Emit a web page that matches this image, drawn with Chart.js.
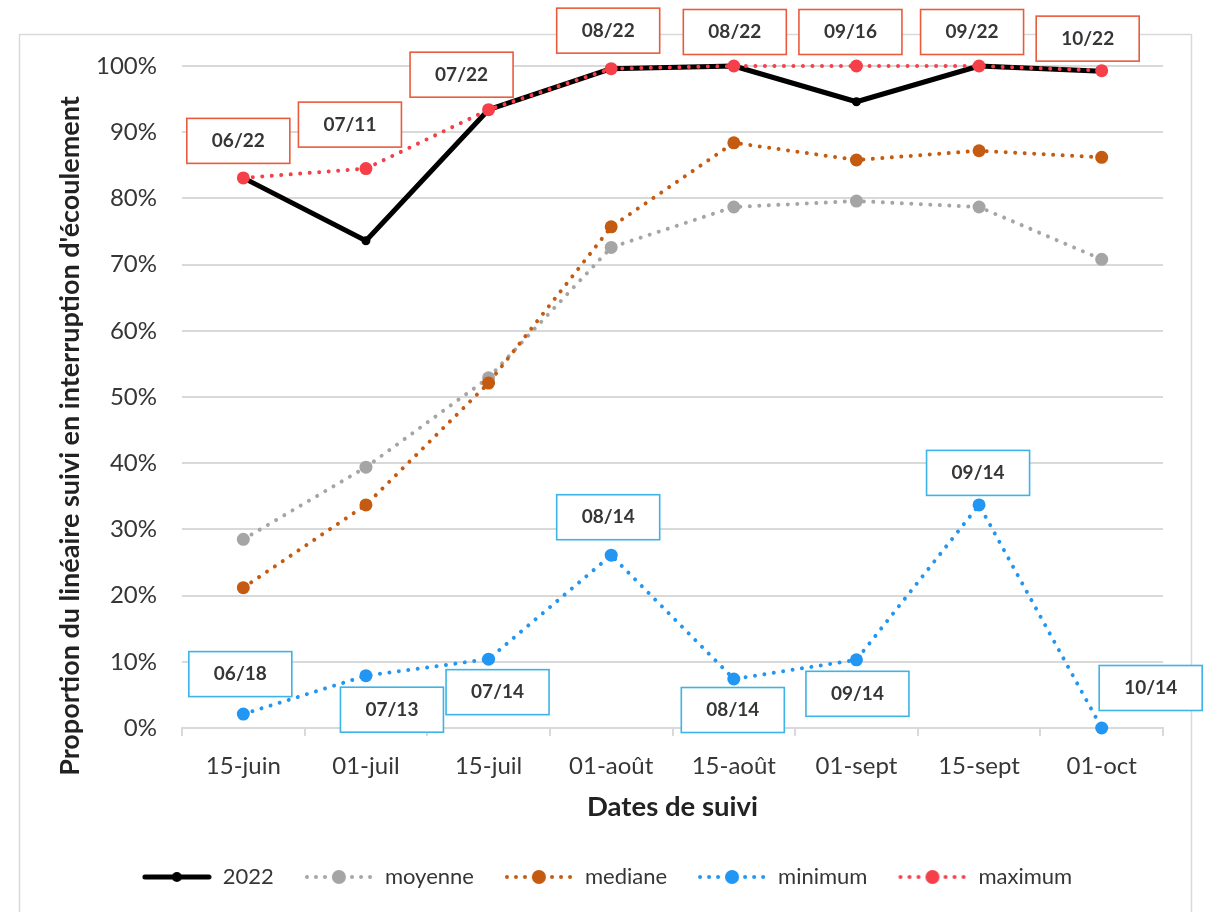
<!DOCTYPE html>
<html lang="fr">
<head>
<meta charset="utf-8">
<title>Interruption d'écoulement</title>
<script src="https://cdn.jsdelivr.net/npm/chart.js@4.4.1/dist/chart.umd.min.js"></script>
<style>
  html, body { margin: 0; padding: 0; background: #ffffff; }
  #wrap { width: 1210px; height: 912px; }
</style>
</head>
<body>
<div id="wrap"><canvas id="chart" width="1210" height="912"></canvas></div>
<script>
// Monitoring dates
const dates = ['15-juin', '01-juil', '15-juil', '01-août', '15-août', '01-sept', '15-sept', '01-oct'];

// Share of monitored length with interrupted flow (%)
const serie2022 = [83.1, 73.6, 93.4, 99.6, 100, 94.6, 100, 99.2];
const moyenne   = [28.5, 39.4, 52.9, 72.6, 78.7, 79.6, 78.7, 70.8];
const mediane   = [21.2, 33.7, 52.1, 75.7, 88.4, 85.8, 87.2, 86.2];
const minimum   = [2.1, 7.9, 10.4, 26.1, 7.4, 10.3, 33.7, 0];
const maximum   = [83.1, 84.5, 93.4, 99.6, 100, 100, 100, 99.3];

// Month/year of the extreme value at each date
const minimumYears = ['06/18', '07/13', '07/14', '08/14', '08/14', '09/14', '09/14', '10/14'];
const maximumYears = ['06/22', '07/11', '07/22', '08/22', '08/22', '09/16', '09/22', '10/22'];

const FONT = 'Lato, "Open Sans", "Noto Sans", sans-serif';
const TEXT = '#363636';

const COLORS = {
  y2022: '#000000',
  moyenne: '#a5a5a5',
  mediane: '#c55a11',
  minimum: '#2196f3',
  maximum: '#f5404a'
};

// Legend icons: short line segment with the marker in the middle
function legendIcon(color, solid) {
  const c = document.createElement('canvas');
  c.width = 70; c.height = 18;
  const g = c.getContext('2d');
  g.strokeStyle = color; g.fillStyle = color; g.lineCap = 'round';
  let r;
  if (solid) {
    g.lineWidth = 5;
    g.beginPath(); g.moveTo(3, 9); g.lineTo(67, 9); g.stroke();
    r = 5;
  } else {
    g.lineWidth = 4;
    g.setLineDash([0.01, 9]);
    g.beginPath(); g.moveTo(3, 9); g.lineTo(68, 9); g.stroke();
    r = 7;
  }
  g.setLineDash([]);
  g.beginPath(); g.arc(35, 9, r, 0, Math.PI * 2); g.fill();
  return c;
}

const icons = [
  legendIcon(COLORS.y2022, true),
  legendIcon(COLORS.moyenne, false),
  legendIcon(COLORS.mediane, false),
  legendIcon(COLORS.minimum, false),
  legendIcon(COLORS.maximum, false)
];

function dotted(label, data, color, order) {
  return {
    label, data, order,
    borderColor: color, backgroundColor: color,
    borderWidth: 4, borderDash: [0.01, 9.5], borderCapStyle: 'round',
    pointRadius: 6.5, pointHoverRadius: 6.5, pointBorderWidth: 0,
    pointBackgroundColor: color, tension: 0, clip: false
  };
}

// Outer frame around the chart
const framePlugin = {
  id: 'frame',
  beforeDraw(chart) {
    const ctx = chart.ctx;
    ctx.save();
    ctx.strokeStyle = '#d9d9d9';
    ctx.lineWidth = 1.5;
    ctx.strokeRect(19.5, 34.5, chart.width - 38, chart.height + 10);
    ctx.restore();
  }
};

// Vertical axis title
const yTitlePlugin = {
  id: 'yTitle',
  afterDraw(chart) {
    const ctx = chart.ctx;
    ctx.save();
    ctx.translate(70, 436);
    ctx.rotate(-Math.PI / 2);
    ctx.font = 'bold 27px ' + FONT;
    ctx.fillStyle = '#222222';
    ctx.textAlign = 'center';
    ctx.textBaseline = 'middle';
    ctx.fillText("Proportion du linéaire suivi en interruption d'écoulement", 0, 0);
    ctx.restore();
  }
};

// Boxed date labels next to the minimum and maximum points
const boxLabelPlugin = {
  id: 'boxLabels',
  afterDatasetsDraw(chart, args, opts) {
    const ctx = chart.ctx;
    ctx.save();
    opts.sets.forEach(set => {
      const meta = chart.getDatasetMeta(set.dataset);
      meta.data.forEach((pt, i) => {
        const [dx, dy] = set.offsets[i];
        const cx = pt.x + dx, cy = pt.y + dy;
        const w = 103, h = 45;
        ctx.fillStyle = '#ffffff';
        ctx.fillRect(cx - w / 2, cy - h / 2, w, h);
        ctx.strokeStyle = set.color;
        ctx.lineWidth = 1.6;
        ctx.strokeRect(cx - w / 2, cy - h / 2, w, h);
        ctx.fillStyle = '#363636';
        ctx.font = 'bold 19px ' + FONT;
        ctx.textAlign = 'center';
        ctx.textBaseline = 'middle';
        ctx.fillText(set.texts[i], cx, cy);
      });
    });
    ctx.restore();
  }
};

new Chart(document.getElementById('chart'), {
  type: 'line',
  data: {
    labels: dates,
    datasets: [
      {
        label: '2022', data: serie2022, order: 5,
        borderColor: COLORS.y2022, backgroundColor: COLORS.y2022,
        borderWidth: 5, borderJoinStyle: 'round',
        pointRadius: 4.5, pointHoverRadius: 4.5, pointBorderWidth: 0,
        pointBackgroundColor: COLORS.y2022, tension: 0, clip: false
      },
      dotted('moyenne', moyenne, COLORS.moyenne, 4),
      dotted('mediane', mediane, COLORS.mediane, 3),
      dotted('minimum', minimum, COLORS.minimum, 2),
      dotted('maximum', maximum, COLORS.maximum, 1)
    ]
  },
  options: {
    responsive: false,
    animation: false,
    layout: { padding: { top: 66, right: 47, left: 51, bottom: 14 } },
    scales: {
      x: {
        offset: true,
        grid: { offset: true, drawOnChartArea: false, drawTicks: true, tickLength: 8, color: '#d9d9d9', lineWidth: 2 },
        border: { display: true, color: '#d9d9d9', width: 2 },
        ticks: { font: { family: FONT, size: 24 }, color: TEXT, padding: 16, maxRotation: 0, autoSkip: false },
        title: {
          display: true, text: 'Dates de suivi', color: '#222222',
          font: { family: FONT, size: 27.5, weight: 'bold' },
          padding: { top: 0, bottom: 12 }
        },
        afterFit(scale) { scale.height = 108; }
      },
      y: {
        min: 0, max: 100,
        grid: { color: '#d9d9d9', lineWidth: 2, drawTicks: false },
        border: { display: false },
        ticks: {
          stepSize: 10, padding: 25, color: TEXT,
          font: { family: FONT, size: 24 },
          callback: v => v + '%'
        },
        afterFit(scale) { scale.width = 131; }
      }
    },
    plugins: {
      tooltip: { enabled: false },
      legend: {
        position: 'bottom',
        labels: {
          usePointStyle: true,
          pointStyleWidth: 70,
          padding: 30,
          color: TEXT,
          font: { family: FONT, size: 22 },
          sort: (a, b) => a.datasetIndex - b.datasetIndex,
          generateLabels(chart) {
            return Chart.defaults.plugins.legend.labels.generateLabels(chart)
              .map(item => Object.assign(item, { pointStyle: icons[item.datasetIndex] }));
          }
        }
      },
      boxLabels: {
        sets: [
          {
            dataset: 4, color: '#e95b3c', texts: maximumYears,
            offsets: [[-5, -37], [-16, -44], [-27, -35], [-3, -38], [1, -34], [-6, -34], [-7, -34], [-14, -32]]
          },
          {
            dataset: 3, color: '#3cb4e6', texts: minimumYears,
            offsets: [[-3, -40], [26, 34], [9, 33], [-3, -38], [-1, 31], [1, 34], [-1, -32], [49, -40]]
          }
        ]
      }
    }
  },
  plugins: [framePlugin, yTitlePlugin, boxLabelPlugin]
});
</script>
</body>
</html>
